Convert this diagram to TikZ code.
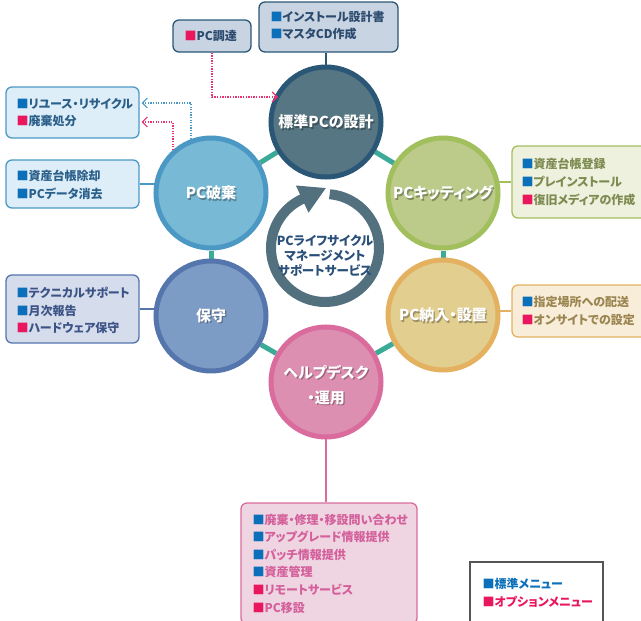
\documentclass[tikz,border=0pt]{standalone}
\usepackage{fontspec}
\setmainfont{Noto Sans CJK JP}[RawFeature=+palt]
\usetikzlibrary{arrows.meta,backgrounds}
\definecolor{cAf}{HTML}{567683}\definecolor{cAb}{HTML}{2B5777}
\definecolor{cBf}{HTML}{BCCB8A}\definecolor{cBb}{HTML}{A2BF5E}
\definecolor{cCf}{HTML}{E2CF90}\definecolor{cCb}{HTML}{E3B15F}
\definecolor{cDf}{HTML}{DD8FB1}\definecolor{cDb}{HTML}{D96C9D}
\definecolor{cEf}{HTML}{7C9BC5}\definecolor{cEb}{HTML}{5575AD}
\definecolor{cFf}{HTML}{78B9D5}\definecolor{cFb}{HTML}{4B98C5}
\definecolor{bxA}{HTML}{C8D4E1}\definecolor{txA}{HTML}{2B4A6E}
\definecolor{bxF}{HTML}{DDEEF8}\definecolor{txF}{HTML}{2A5F8A}
\definecolor{bxE}{HTML}{D5DCEC}\definecolor{txE}{HTML}{3C5386}
\definecolor{bxB}{HTML}{EEF1DE}\definecolor{txB}{HTML}{7D8A50}
\definecolor{bxC}{HTML}{F8EDD9}\definecolor{txC}{HTML}{9A8550}
\definecolor{bxD}{HTML}{EFD5E2}\definecolor{txD}{HTML}{D4609B}
\definecolor{hexc}{HTML}{3BAB97}
\definecolor{ringc}{HTML}{52707E}
\definecolor{ctxt}{HTML}{2A5079}
\definecolor{sqblue}{HTML}{0C6FBA}
\definecolor{sqred}{HTML}{E9185E}
\definecolor{dotblue}{HTML}{4B98C5}
\definecolor{dotred}{HTML}{E8336F}
\definecolor{legline}{HTML}{555555}
\newcommand\bsq{\textcolor{sqblue}{■}}
\newcommand\rsq{\textcolor{sqred}{■}}
\newcommand\boxfont{\bfseries\fontsize{12}{17.6}\selectfont}
\newcommand\circfont{\bfseries\fontsize{15}{25}\selectfont}
\begin{document}
\begin{tikzpicture}[x=1pt,y=-1pt,
  circ/.style={circle, minimum size=110pt, inner sep=0pt, line width=5pt},
  bx/.style={rounded corners=6pt, line width=1.3pt, inner sep=0pt},
  btext/.style={anchor=west, align=left, font=\boxfont, inner sep=0pt},
  clab/.style={text=white, font=\circfont, align=center, inner sep=0pt},
  cshadow/.style={text=black, opacity=0.3, font=\circfont, align=center, inner sep=0pt},
  hexline/.style={draw=hexc, line width=5pt},
  conn/.style={line width=1.5pt},
  dotarrow/.style={line width=1.2pt, dash pattern=on 1.3pt off 1.3pt, -{Straight Barb[length=5pt,width=10pt,line width=1.1pt]}}
]
\clip (0,0) rectangle (641,621);
% circles
\node[circ, draw=cAb, fill=cAf] (c1) at (326,122) {};
\node[circ, draw=cBb, fill=cBf] (c2) at (443,193) {};
\node[circ, draw=cCb, fill=cCf] (c3) at (443,315) {};
\node[circ, draw=cDb, fill=cDf] (c4) at (326,382) {};
\node[circ, draw=cEb, fill=cEf] (c5) at (211,316) {};
\node[circ, draw=cFb, fill=cFf] (c6) at (211,193) {};
% central arrow ring
\draw[ringc, line width=10pt] (329.7,194.2) arc[start angle=-85, end angle=246, radius=54];
\fill[ringc] (325.8,188.1) -- (308.5,212.7) -- (295.9,185.5) -- cycle;
\node[text=ctxt, align=center, font=\bfseries\fontsize{12.5}{14.8}\selectfont, inner sep=0pt] (ctext) at (325,256) {PCライフサイクル\\マネージメント\\サポートサービス};
% circle labels
\node[cshadow] (l1s) at ([xshift=1.3pt,yshift=-1.3pt]c1.center) {標準PCの設計};
\node[clab] (l1) at (c1) {標準PCの設計};
\node[cshadow] (l2s) at ([xshift=1.3pt,yshift=-1.3pt]c2.center) {PCキッティング};
\node[clab] (l2) at (c2) {PCキッティング};
\node[cshadow] (l3s) at ([xshift=1.3pt,yshift=-1.3pt]c3.center) {PC納入・設置};
\node[clab] (l3) at (c3) {PC納入・設置};
\node[cshadow] (l4s) at ([xshift=1.3pt,yshift=-4.3pt]c4.center) {ヘルプデスク\\・運用};
\node[clab] (l4) at ([yshift=-3pt]c4.center) {ヘルプデスク\\・運用};
\node[cshadow] (l5s) at ([xshift=1.3pt,yshift=-1.3pt]c5.center) {保守};
\node[clab] (l5) at (c5) {保守};
\node[cshadow] (l6s) at ([xshift=1.3pt,yshift=-1.3pt]c6.center) {PC破棄};
\node[clab] (l6) at (c6) {PC破棄};
% boxes
\node[bx, draw=cAb, fill=bxA, minimum width=78pt, minimum height=32pt] (box1) at (212,36) {};
\node[btext, text=txA] (t1) at ([xshift=12pt]box1.west) {\rsq PC調達};
\node[bx, draw=cAb, fill=bxA, minimum width=139pt, minimum height=50pt] (box2) at (328.5,27) {};
\node[btext, text=txA] (t2) at ([xshift=12pt,yshift=1.5pt]box2.west) {\bsq インストール設計書\\\bsq マスタCD作成};
\node[bx, draw=cFb, fill=bxF, minimum width=133pt, minimum height=51pt] (box3) at (72.5,112.5) {};
\node[btext, text=txF] (t3) at ([xshift=11pt]box3.west) {\bsq リユース・リサイクル\\\rsq 廃棄処分};
\node[bx, draw=cFb, fill=bxF, minimum width=133pt, minimum height=48pt] (box4) at (72.5,184) {};
\node[btext, text=txF] (t4) at ([xshift=11pt,yshift=-1pt]box4.west) {\bsq 資産台帳除却\\\bsq PCデータ消去};
\node[bx, draw=cEb, fill=bxE, minimum width=133pt, minimum height=68pt] (box5) at (72.5,309) {};
\node[btext, text=txE] (t5) at ([xshift=11pt,yshift=-1.5pt]box5.west) {\bsq テクニカルサポート\\\bsq 月次報告\\\rsq ハードウェア保守};
\node[bx, draw=cBb, fill=bxB, minimum width=138pt, minimum height=72pt] (box6) at (581,182) {};
\node[btext, text=txB] (t6) at ([xshift=10pt]box6.west) {\bsq 資産台帳登録\\\bsq プレインストール\\\rsq 復旧メディアの作成};
\node[bx, draw=cCb, fill=bxC, minimum width=138pt, minimum height=52pt] (box7) at (581,311) {};
\node[btext, text=txC] (t7) at ([xshift=10pt]box7.west) {\bsq 指定場所への配送\\\rsq オンサイトでの設定};
\node[bx, draw=cDb, fill=bxD, minimum width=176pt, minimum height=121pt] (box8) at (329,563.5) {};
\node[btext, text=txD] (t8) at ([xshift=12pt]box8.west) {\bsq 廃棄・修理・移設問い合わせ\\\bsq アップグレード情報提供\\\bsq パッチ情報提供\\\bsq 資産管理\\\rsq リモートサービス\\\rsq PC移設};
\node[draw=legline, fill=white, line width=1.3pt, minimum width=133pt, minimum height=62pt, inner sep=0pt] (leg) at (536.5,593) {};
\node[btext] (tleg) at ([xshift=13pt]leg.west) {\textcolor{sqblue}{■標準メニュー}\\\textcolor{sqred}{■オプションメニュー}};
% connectors behind
\begin{pgfonlayer}{background}
\draw[hexline] (c1) -- (c2);
\draw[hexline] (c2) -- (c3);
\draw[hexline] (c3) -- (c4);
\draw[hexline] (c4) -- (c5);
\draw[hexline] (c5) -- (c6);
\draw[hexline] (c6) -- (c1);
\draw[conn, draw=cAb] (c1.center) -- (c1.center |- box2.south);
\draw[conn, draw=cFb] (box4.east) -- (box4.east -| c6.center);
\draw[conn, draw=cEb] (box5.east) -- (box5.east -| c5.center);
\draw[conn, draw=cBb] (box6.west) -- (box6.west -| c2.center);
\draw[conn, draw=cCb] (box7.west) -- (box7.west -| c3.center);
\draw[conn, draw=cDb] (c4.center) -- (c4.center |- box8.north);
\end{pgfonlayer}
% dotted arrows
\coordinate (tipA) at (278,97);
\coordinate (srcB) at (191,139);
\coordinate (srcR) at (173,150);
\draw[dotarrow, draw=dotred] (box1.south) |- (tipA);
\draw[dotarrow, draw=dotblue] (srcB) |- ([xshift=2pt,yshift=9.5pt]box3.east);
\draw[dotarrow, draw=dotred] (srcR) |- ([xshift=2pt,yshift=-9.5pt]box3.east);
\end{tikzpicture}
\end{document}
